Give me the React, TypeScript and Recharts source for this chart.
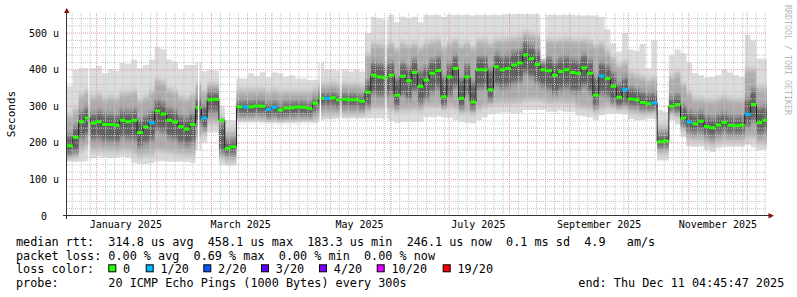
import React from 'react';
import { ComposedChart, Area, Line, XAxis, YAxis, CartesianGrid } from 'recharts';

const MONO = '"DejaVu Sans Mono", monospace';

// ---------- time axis: days relative to 2025-01-01 ----------
const DAY_MS = 86400000;
const dayOf = (y: number, m: number, d: number) => (Date.UTC(y, m, d) - Date.UTC(2025, 0, 1)) / DAY_MS;
const START_DAY = -15.2;
const END_DAY = 344.2;
const STEP_DAYS = 3;

const X_LABEL_TEXT = ['January 2025', 'March 2025', 'May 2025', 'July 2025', 'September 2025', 'November 2025'];
const X_LABEL_MONTHS = [0, 2, 4, 6, 8, 10];
const X_LABEL_DAYS = X_LABEL_MONTHS.map((m) => dayOf(2025, m, 16));

// ---------- y axis ----------
const Y_MAX = 555;
const Y_TICKS = [0, 100, 200, 300, 400, 500];
const Y_MINOR = [20, 40, 60, 80, 120, 140, 160, 180, 220, 240, 260, 280, 320, 340, 360, 380, 420, 440, 460, 480, 520, 540];
const Y_MAJOR = [100, 200, 300, 400, 500];

// ---------- series (one value per 3-day column) ----------
const MEDIAN = [
  192, 215, 258, 268, 254, 258, 250, 250, 248, 262,
  258, 262, 228, 243, 255, 287, 279, 262, 257, 244,
  238, 250, 296, 268, 318, 319, 262, 185, 189, 299,
  298, 299, 301, 300, 291, 297, 290, 295, 296, 298,
  297, 294, 308, 322, 321, 323, 317, 319, 318, 318,
  314, 338, 385, 380, 378, 385, 330, 382, 370, 392,
  355, 372, 390, 398, 326, 380, 403, 322, 380, 312,
  400, 400, 345, 408, 400, 403, 413, 418, 440, 430,
  414, 400, 397, 385, 395, 400, 392, 390, 405, 390,
  330, 383, 375, 355, 325, 345, 320, 318, 310, 307,
  309, 203, 205, 300, 305, 268, 257, 252, 259, 245,
  241, 249, 256, 248, 247, 248, 278, 305, 255, 262,
];
const LOSS = [
  0, 0, 0, 0, 0, 0, 0, 0, 0, 0,
  0, 0, 0, 0, 1, 0, 0, 0, 0, 0,
  0, 0, 0, 1, 0, 0, 0, 0, 0, 0,
  1, 0, 0, 0, 1, 1, 0, 0, 0, 0,
  0, 0, 0, 0, 1, 0, 0, 0, 0, 0,
  0, 0, 0, 0, 0, 0, 0, 0, 0, 0,
  0, 0, 0, 0, 0, 0, 0, 0, 0, 0,
  0, 0, 0, 0, 0, 0, 0, 0, 0, 0,
  0, 0, 0, 0, 0, 0, 0, 0, 0, 0,
  0, 1, 0, 0, 0, 1, 0, 0, 0, 0,
  1, 0, 0, 0, 0, 0, 1, 0, 0, 0,
  0, 0, 0, 0, 0, 0, 1, 0, 0, 0,
];
const HI1 = [
  355, 399, 404, 404, 404, 410, 390, 401, 397, 418,
  416, 427, 404, 413, 427, 463, 456, 428, 422, 401,
  413, 413, 420, 395, 400, 398, 300, 262, 262, 376,
  376, 390, 382, 393, 380, 393, 390, 380, 385, 376,
  376, 372, 372, 420, 400, 400, 398, 400, 395, 400,
  395, 500, 545, 540, 536, 550, 530, 545, 540, 545,
  530, 550, 550, 550, 545, 550, 550, 550, 550, 548,
  550, 550, 550, 550, 550, 552, 552, 552, 552, 552,
  552, 430, 550, 550, 550, 550, 550, 548, 548, 548,
  548, 545, 510, 472, 450, 500, 455, 452, 470, 404,
  480, 290, 285, 440, 455, 445, 420, 390, 385, 378,
  380, 385, 400, 392, 385, 380, 495, 480, 430, 430,
];
const LO1 = [
  150, 148, 148, 150, 158, 162, 160, 158, 160, 162,
  160, 145, 142, 142, 145, 150, 150, 148, 148, 148,
  148, 145, 180, 200, 228, 228, 140, 138, 138, 258,
  258, 258, 258, 256, 256, 256, 255, 256, 256, 256,
  257, 258, 255, 262, 265, 265, 267, 267, 267, 267,
  267, 267, 267, 267, 265, 260, 255, 257, 258, 258,
  258, 270, 270, 272, 270, 268, 262, 258, 255, 253,
  262, 270, 278, 280, 282, 282, 280, 282, 290, 290,
  290, 290, 285, 285, 288, 285, 285, 275, 272, 270,
  262, 275, 280, 280, 280, 278, 265, 262, 262, 266,
  266, 152, 152, 262, 250, 215, 190, 189, 189, 180,
  175, 185, 189, 189, 189, 189, 195, 188, 180, 182,
];
const HI2 = [
  275, 290, 330, 340, 325, 330, 320, 325, 320, 335,
  335, 340, 315, 325, 340, 370, 365, 345, 340, 325,
  320, 330, 360, 340, 360, 360, 270, 230, 232, 344,
  343, 345, 345, 345, 338, 343, 338, 340, 340, 340,
  340, 338, 345, 360, 360, 362, 358, 360, 358, 360,
  355, 440, 470, 468, 465, 470, 455, 470, 465, 470,
  460, 470, 475, 478, 460, 470, 478, 465, 472, 460,
  478, 478, 470, 480, 480, 482, 485, 488, 500, 495,
  490, 420, 480, 478, 480, 482, 480, 478, 480, 475,
  465, 470, 450, 430, 410, 420, 390, 385, 380, 370,
  375, 245, 245, 380, 390, 360, 335, 320, 320, 315,
  315, 320, 325, 320, 318, 318, 400, 400, 350, 350,
];
const LO2 = [
  160, 162, 180, 190, 180, 182, 178, 178, 176, 180,
  180, 172, 165, 168, 170, 180, 178, 175, 172, 170,
  168, 168, 215, 225, 255, 255, 160, 152, 152, 264,
  264, 264, 265, 264, 262, 262, 261, 262, 262, 262,
  263, 263, 265, 275, 277, 277, 277, 278, 278, 278,
  278, 290, 295, 295, 295, 292, 285, 290, 290, 292,
  290, 300, 300, 300, 295, 300, 295, 285, 285, 282,
  292, 300, 305, 310, 310, 310, 310, 312, 318, 318,
  318, 315, 310, 310, 312, 310, 310, 300, 298, 295,
  285, 295, 300, 298, 295, 295, 285, 282, 280, 282,
  282, 172, 172, 280, 272, 235, 210, 208, 208, 200,
  195, 202, 208, 205, 205, 205, 215, 215, 200, 200,
];
const HI3 = [
  220, 245, 285, 295, 280, 285, 278, 278, 275, 288,
  285, 290, 262, 272, 285, 315, 308, 292, 287, 272,
  268, 280, 320, 300, 338, 338, 250, 205, 208, 314,
  313, 314, 316, 315, 306, 312, 305, 310, 311, 313,
  312, 309, 322, 336, 336, 338, 332, 334, 333, 333,
  329, 370, 420, 415, 413, 420, 375, 417, 405, 427,
  395, 407, 425, 433, 380, 415, 438, 375, 415, 365,
  435, 435, 400, 443, 435, 438, 448, 453, 475, 465,
  449, 420, 432, 420, 430, 435, 427, 425, 440, 425,
  380, 418, 410, 390, 360, 380, 350, 345, 338, 332,
  335, 222, 224, 325, 330, 300, 285, 278, 283, 272,
  268, 275, 280, 272, 270, 272, 320, 345, 295, 300,
];
const LO3 = [
  168, 175, 212, 222, 210, 212, 205, 205, 203, 215,
  212, 210, 190, 200, 208, 235, 230, 215, 210, 200,
  195, 200, 255, 240, 285, 285, 175, 168, 170, 277,
  276, 277, 279, 278, 270, 275, 268, 273, 274, 276,
  275, 272, 285, 300, 300, 302, 296, 298, 297, 297,
  293, 300, 335, 330, 328, 335, 300, 332, 320, 342,
  310, 322, 340, 348, 300, 330, 353, 295, 330, 292,
  350, 350, 318, 358, 350, 353, 363, 368, 390, 380,
  364, 355, 347, 335, 345, 350, 342, 340, 355, 340,
  300, 335, 328, 310, 300, 305, 300, 298, 292, 290,
  292, 188, 190, 288, 285, 248, 230, 228, 232, 220,
  215, 225, 230, 225, 225, 225, 245, 260, 225, 228,
];
// missing-data gaps (day positions)
const GAP_DAYS = [-4.26, 52.05, 114.5, 125.1, 148.2];
const GAP_WIDTH = 0.75;

// ---------- legend ----------
const STAT_LINE_1 = 'median rtt:  314.8 us avg  458.1 us max  183.3 us min  246.1 us now  0.1 ms sd  4.9   am/s';
const STAT_LINE_2 = 'packet loss: 0.00 % avg  0.69 % max  0.00 % min  0.00 % now';
const LOSS_LABEL = 'loss color:';
const LOSS_NAMES = ['0', '1/20', '2/20', '3/20', '4/20', '10/20', '19/20'];
const LOSS_STEPS = [0, 1, 2, 3, 4, 10, 19];
const LOSS_COLORS = ['#26ff00', '#00b8ff', '#0059ff', '#5e00ff', '#7e00ff', '#dd00ff', '#ff0000'];
const PROBE_LINE = 'probe:       20 ICMP Echo Pings (1000 Bytes) every 300s';
const END_LINE = 'end: Thu Dec 11 04:45:47 2025';
const CREDIT = 'RRDTOOL / TOBI OETIKER';
const Y_TITLE = 'Seconds';

// ---------- layout ----------
const W = 797;
const H = 297;
const MARGIN = { top: 13, right: 30, bottom: 61, left: 7 };
const LEGEND_BOX_X = [108.3, 145.7, 203.3, 261, 319, 376.7, 442.7];

const OUTER_SMOKE = [{ lo: 'lo1', hi: 'hi1', color: '#dcdcdc' }];
const INNER_SMOKE = [
  { lo: 'lo2', hi: 'hi2', color: '#ababab' },
  { lo: 'lo3', hi: 'hi3', color: '#606060' },
];

type Row = { x: number; [k: string]: number | undefined };

const bucketOf = (l: number) => {
  let b = 0;
  LOSS_STEPS.forEach((t, j) => {
    if (l >= t) b = j;
  });
  return b;
};

function buildRows(): Row[] {
  const rows: Row[] = [];
  for (let i = 0; i < MEDIAN.length; i++) {
    const s = START_DAY + i * STEP_DAYS;
    const e = s + STEP_DAYS;
    const base = { med: MEDIAN[i], lo1: LO1[i], hi1: HI1[i], lo2: LO2[i], hi2: HI2[i], lo3: LO3[i], hi3: HI3[i] };
    const colored: Record<string, number> = { ...base, ['g' + bucketOf(LOSS[i])]: MEDIAN[i] };
    rows.push({ x: s, ...colored });
    GAP_DAYS.filter((g) => g >= s && g < e).forEach((g) => {
      rows.push({ x: g, ...colored });
      rows.push({ x: g + GAP_WIDTH / 2 });
      rows.push({ x: g + GAP_WIDTH, ...colored });
    });
    rows.push({ x: e, ...colored });
    rows.push({ x: e, ...base });
  }
  return rows;
}
const ROWS = buildRows();

// month grid lines
const MONTH_STARTS: number[] = [];
const MINOR_X: number[] = [];
for (let m = -1; m <= 11; m++) {
  const ms = dayOf(2025, m, 1);
  const next = dayOf(2025, m + 1, 1);
  if (ms >= START_DAY && ms <= END_DAY) MONTH_STARTS.push(ms);
  for (let k = 1; k <= 6; k++) {
    const d = ms + k * 4.62;
    if (d < next - 1.5 && d > START_DAY && d < END_DAY) MINOR_X.push(d);
  }
}

const fmtY = (v: number) => (v === 0 ? '0  ' : `${v} u`);

const YTick = (p: any) => (
  <text
    x={p.x}
    y={p.y}
    dy={3.6}
    textAnchor="end"
    fontFamily={MONO}
    fontSize={10}
    fill="#000"
    xmlSpace="preserve"
    style={{ whiteSpace: 'pre' }}
  >
    {fmtY(p.payload.value)}
  </text>
);

const XTick = (p: any) => {
  const idx = X_LABEL_DAYS.indexOf(p.payload.value);
  return (
    <text x={p.x} y={p.y + 11.5} textAnchor="middle" fontFamily={MONO} fontSize={10} fill="#000">
      {X_LABEL_TEXT[idx] ?? ''}
    </text>
  );
};

function axisPair(show: boolean) {
  return [
    <XAxis
      key="x"
      dataKey="x"
      type="number"
      domain={[START_DAY, END_DAY]}
      allowDataOverflow
      ticks={X_LABEL_DAYS}
      interval={0}
      tick={show ? <XTick /> : false}
      tickLine={false}
      axisLine={false}
      tickSize={0}
      tickMargin={0}
      height={20}
    />,
    <YAxis
      key="y"
      type="number"
      domain={[0, Y_MAX]}
      allowDataOverflow
      ticks={Y_TICKS}
      interval={0}
      tick={show ? <YTick /> : false}
      tickLine={false}
      axisLine={false}
      tickSize={3}
      tickMargin={5}
      width={60}
    />,
  ];
}

const layer: React.CSSProperties = { position: 'absolute', left: 0, top: 0, width: W, height: H };

const smokeChart = (bands: { lo: string; hi: string; color: string }[]) => (
  <ComposedChart width={W} height={H} data={ROWS} margin={MARGIN}>
    {axisPair(false)}
    {bands.map((b) => (
      <Area
        key={b.lo}
        type="linear"
        dataKey={(r: Row) => (r[b.lo] == null ? null : [r[b.lo], r[b.hi]])}
        stroke="none"
        fill={b.color}
        fillOpacity={1}
        isAnimationActive={false}
        dot={false}
        activeDot={false}
      />
    ))}
  </ComposedChart>
);

export default function App() {
  return (
    <div style={{ ...layer, background: '#ffffff' }}>
      <svg width={0} height={0} style={{ position: 'absolute' }}>
        <defs>
          <filter id="vsmoke" x="0" y="-20%" width="100%" height="140%">
            <feGaussianBlur stdDeviation="0 3" />
          </filter>
        </defs>
      </svg>
      {/* outer smoke */}
      <div style={layer}>{smokeChart(OUTER_SMOKE)}</div>
      {/* inner smoke, softened vertically */}
      <div style={{ ...layer, filter: 'url(#vsmoke)' }}>{smokeChart(INNER_SMOKE)}</div>
      {/* grid + median layer (drawn over the smoke, as rrdtool does) */}
      <div style={layer}>
        <ComposedChart width={W} height={H} data={ROWS} margin={MARGIN}>
          {axisPair(true)}
          <CartesianGrid
            horizontalValues={Y_MINOR}
            verticalValues={MINOR_X}
            stroke="#c4c4c4"
            strokeDasharray="1 1"
            fill="none"
          />
          <CartesianGrid
            horizontalValues={Y_MAJOR}
            verticalValues={MONTH_STARTS}
            stroke="#df9a9a"
            strokeDasharray="1 1"
            fill="none"
          />
          <Line
            type="linear"
            dataKey="med"
            stroke="#202020"
            strokeWidth={1}
            dot={false}
            activeDot={false}
            isAnimationActive={false}
          />
          {LOSS_COLORS.map((c, j) => (
            <Line
              key={c}
              type="linear"
              dataKey={'g' + j}
              stroke={c}
              strokeWidth={3}
              strokeLinecap="butt"
              dot={false}
              activeDot={false}
              isAnimationActive={false}
            />
          ))}
        </ComposedChart>
      </div>
      <svg width={W} height={H} style={{ ...layer, pointerEvents: 'none' }}>
        {/* axes */}
        <line x1={63} y1={215.5} x2={769} y2={215.5} stroke="#333" strokeWidth={1} />
        <line x1={66.5} y1={219} x2={66.5} y2={12} stroke="#333" strokeWidth={1} />
        <polygon points="64,13 69.5,13 66.75,8" fill="#7f1010" />
        <polygon points="768.5,213 768.5,218.5 774,215.75" fill="#7f1010" />
        {/* y title */}
        <text transform="translate(15,114) rotate(-90)" textAnchor="middle" fontFamily={MONO} fontSize={11} fill="#000">
          {Y_TITLE}
        </text>
        {/* credit */}
        <text transform="translate(784.5,5) rotate(90)" fontFamily={MONO} fontSize={8.3} fill="#b8b8b8">
          {CREDIT}
        </text>
        {/* legend */}
        <g fontFamily={MONO} fontSize={11.8} fill="#000">
          <text x={16} y={246.2} xmlSpace="preserve" style={{ whiteSpace: 'pre' }}>{STAT_LINE_1}</text>
          <text x={16} y={259.8} xmlSpace="preserve" style={{ whiteSpace: 'pre' }}>{STAT_LINE_2}</text>
          <text x={16} y={273.4} xmlSpace="preserve" style={{ whiteSpace: 'pre' }}>{LOSS_LABEL}</text>
          {LOSS_NAMES.map((n, j) => (
            <g key={n}>
              <rect x={LEGEND_BOX_X[j] + 0.5} y={264.8} width={7} height={7} fill={LOSS_COLORS[j]} stroke="#000" strokeWidth={1} />
              <text x={LEGEND_BOX_X[j] + 14.8} y={273.4}>{n}</text>
            </g>
          ))}
          <text x={16} y={287} xmlSpace="preserve" style={{ whiteSpace: 'pre' }}>{PROBE_LINE}</text>
          <text x={578.3} y={287} xmlSpace="preserve" style={{ whiteSpace: 'pre' }}>{END_LINE}</text>
        </g>
      </svg>
    </div>
  );
}
